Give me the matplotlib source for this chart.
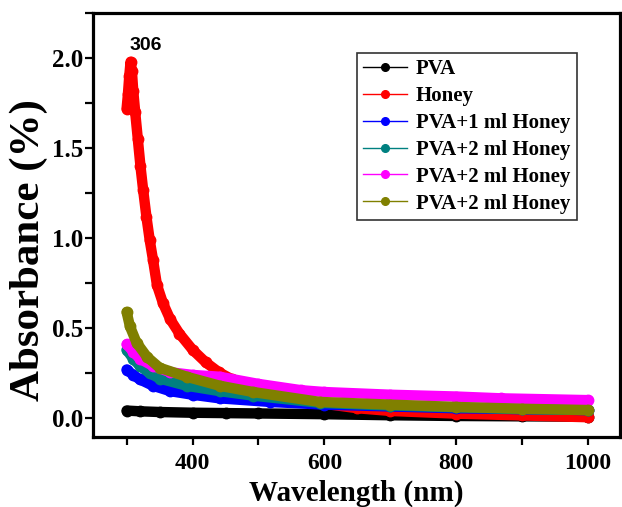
import matplotlib
matplotlib.use("Agg")
import matplotlib.pyplot as plt
from matplotlib.lines import Line2D
from matplotlib.ticker import MultipleLocator

# UV-Vis absorbance spectra (wavelength in nm, absorbance)
wl_pva = [300, 320, 350, 400, 450, 500, 600, 700, 800, 900, 1000]
abs_pva = [0.042, 0.038, 0.034, 0.030, 0.028, 0.026, 0.022, 0.016, 0.012, 0.010, 0.008]

wl_honey = [300, 302, 304, 306, 308, 310, 313, 317, 321, 325, 330, 335, 340,
            346, 355, 366, 380, 400, 420, 440, 460, 480, 500, 520, 550, 600,
            650, 700, 800, 900, 1000]
abs_honey = [1.72, 1.80, 1.90, 1.98, 1.93, 1.82, 1.70, 1.55, 1.40, 1.27, 1.12,
             0.99, 0.88, 0.74, 0.64, 0.55, 0.47, 0.38, 0.31, 0.255, 0.215, 0.185,
             0.165, 0.145, 0.115, 0.08, 0.055, 0.04, 0.025, 0.015, 0.005]

wl_h1 = [300, 310, 320, 340, 366, 400, 441, 518, 600, 700, 800, 900, 1000]
abs_h1 = [0.27, 0.24, 0.215, 0.18, 0.15, 0.13, 0.11, 0.09, 0.075, 0.065, 0.055, 0.05, 0.045]

wl_h2a = [300, 310, 320, 335, 350, 391, 441, 492, 593, 700, 800, 900, 1000]
abs_h2a = [0.38, 0.33, 0.29, 0.25, 0.22, 0.18, 0.15, 0.125, 0.085, 0.07, 0.06, 0.05, 0.045]

wl_h2b = [300, 310, 320, 340, 366, 400, 441, 500, 565, 600, 700, 800, 868, 1000]
abs_h2b = [0.41, 0.37, 0.33, 0.29, 0.255, 0.24, 0.23, 0.19, 0.155, 0.145, 0.13, 0.12, 0.11, 0.10]

wl_h2c = [300, 305, 315, 331, 350, 391, 441, 492, 593, 700, 800, 900, 1000]
abs_h2c = [0.59, 0.51, 0.42, 0.34, 0.28, 0.23, 0.18, 0.145, 0.09, 0.075, 0.062, 0.052, 0.045]

labels = ["PVA", "Honey", "PVA+1 ml Honey", "PVA+2 ml Honey", "PVA+2 ml Honey", "PVA+2 ml Honey"]
colors = ["#000000", "#ff0000", "#0000ff", "#008080", "#ff00ff", "#808000"]
series = [(wl_pva, abs_pva), (wl_honey, abs_honey), (wl_h1, abs_h1),
          (wl_h2a, abs_h2a), (wl_h2b, abs_h2b), (wl_h2c, abs_h2c)]

peak_wl = 306
peak_abs = 1.98

serif = "Liberation Serif"

fig = plt.figure(figsize=(6.22, 5.07), dpi=100)
ax = fig.add_axes([0.1495, 0.138, 0.847, 0.836])

for (x, y), c in zip(series, colors):
    ax.plot(x, y, color=c, lw=7.5, marker="o", ms=7.5, mec=c, mfc=c,
            solid_capstyle="round", solid_joinstyle="round", zorder=2)

ax.text(peak_wl + 23, peak_abs + 0.09, str(peak_wl), ha="center", va="center",
        fontsize=14, fontweight="bold", family="Liberation Sans")

ax.set_xlim(249, 1048)
ax.set_ylim(-0.105, 2.25)
ax.xaxis.set_major_locator(MultipleLocator(200))
ax.xaxis.set_minor_locator(MultipleLocator(100))
ax.yaxis.set_major_locator(MultipleLocator(0.5))
ax.yaxis.set_minor_locator(MultipleLocator(0.25))

for s in ax.spines.values():
    s.set_linewidth(2.3)

ax.tick_params(which="both", direction="out", width=1.6, length=5.5)
ax.tick_params(axis="y", which="major", pad=1.5)
ax.tick_params(axis="x", which="major", pad=6)
ax.tick_params(top=False, right=False, which="both")

for lab in ax.get_xticklabels():
    lab.set_fontfamily(serif)
    lab.set_fontweight("bold")
    lab.set_fontsize(17)
for lab in ax.get_yticklabels():
    lab.set_fontfamily(serif)
    lab.set_fontweight("bold")
    lab.set_fontsize(18)

ax.set_xlabel("Wavelength (nm)", family=serif, fontweight="bold", fontsize=21, labelpad=4)
ax.set_ylabel("Absorbance (%)", family=serif, fontweight="bold", fontsize=31)
ax.yaxis.set_label_coords(-0.086, 0.44)

handles = [Line2D([0], [0], color=c, lw=1.0, marker="o", ms=5.5, mfc=c, mec=c)
           for c in colors]
leg = ax.legend(handles, labels, loc="upper right", bbox_to_anchor=(0.918, 0.906),
                borderaxespad=0, fancybox=False, framealpha=1, edgecolor="#333333",
                handlelength=2.1, handletextpad=0.45, labelspacing=0.33,
                borderpad=0.3, prop={"family": serif, "weight": "bold", "size": 15})
leg.get_frame().set_linewidth(1.2)

fig.savefig("out.png", dpi=100)
